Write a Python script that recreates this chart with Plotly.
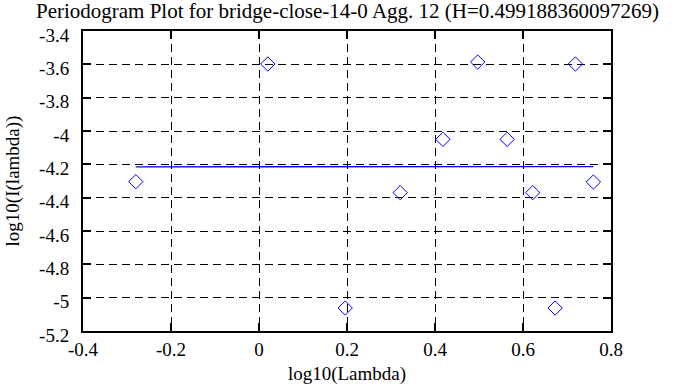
import plotly.graph_objects as go

title_text = "Periodogram Plot for bridge-close-14-0 Agg. 12 (H=0.499188360097269)"
log_lambda = [-0.280, 0.020, 0.196, 0.321, 0.418, 0.497, 0.564, 0.622, 0.673, 0.719, 0.760]
log_I = [-4.304, -3.598, -5.062, -4.370, -4.050, -3.586, -4.050, -4.370, -5.062, -3.598, -4.306]
fit_x = [-0.280, 0.760]
fit_y = [-4.2150, -4.2133]
x_ticks = [-0.4, -0.2, 0, 0.2, 0.4, 0.6, 0.8]
x_tick_text = ["-0.4", "-0.2", "0", "0.2", "0.4", "0.6", "0.8"]
y_ticks = [-5.2, -5.0, -4.8, -4.6, -4.4, -4.2, -4.0, -3.8, -3.6, -3.4]
y_tick_text = ["-5.2", "-5", "-4.8", "-4.6", "-4.4", "-4.2", "-4", "-3.8", "-3.6", "-3.4"]

font = "Liberation Serif, Times New Roman, serif"

fig = go.Figure()
fig.add_trace(go.Scatter(
    x=log_lambda, y=log_I, mode="markers",
    marker=dict(symbol="diamond-open", size=11, color="#0000ff", line=dict(width=1, color="#0000ff")),
    showlegend=False))
fig.add_trace(go.Scatter(
    x=fit_x, y=fit_y, mode="lines",
    line=dict(color="#0000ff", width=1.3), showlegend=False))

axis_common = dict(
    showline=True, linecolor="black", linewidth=2, mirror="ticks",
    ticks="inside", ticklen=8, tickwidth=2, tickcolor="black",
    showgrid=True, gridcolor="black", gridwidth=1, griddash="8px,5px",
    zeroline=False, automargin=False,
    tickfont=dict(family=font, size=19, color="black"),
)

fig.update_layout(
    width=695, height=387,
    margin=dict(l=83, r=84, t=31, b=56),
    paper_bgcolor="white", plot_bgcolor="white",
    title=dict(text=title_text, x=0.5, xanchor="center", y=0.972, yanchor="middle",
               font=dict(family=font, size=21, color="black")),
    xaxis=dict(range=[-0.4, 0.8], tickvals=x_ticks, ticktext=x_tick_text,
               title=dict(text="log10(Lambda)", font=dict(family=font, size=19, color="black"), standoff=8),
               **axis_common),
    yaxis=dict(range=[-5.2, -3.4], tickvals=y_ticks, ticktext=y_tick_text,
               ticklabelshift=4, ticklabelstandoff=8,
               title=dict(text="log10(I(lambda))", font=dict(family=font, size=19, color="black"), standoff=14),
               **axis_common),
)

fig.write_html("out.html", config={"displayModeBar": False},
               post_script="document.body.style.margin='0';document.body.style.overflow='hidden';")
